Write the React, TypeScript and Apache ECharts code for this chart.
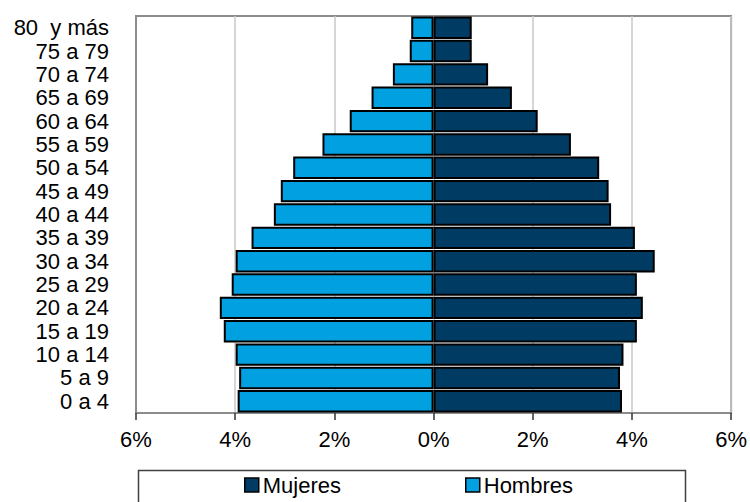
import React, { useEffect, useRef } from "react";
import * as echarts from "echarts";

const categories = [
  "0 a 4", "5 a 9", "10 a 14", "15 a 19", "20 a 24", "25 a 29", "30 a 34",
  "35 a 39", "40 a 44", "45 a 49", "50 a 54", "55 a 59", "60 a 64",
  "65 a 69", "70 a 74", "75 a 79", "80  y más",
];
const hombres = [3.95, 3.92, 3.99, 4.23, 4.31, 4.07, 3.99, 3.67, 3.22, 3.08, 2.83, 2.24, 1.69, 1.25, 0.82, 0.48, 0.45];
const mujeres = [3.8, 3.76, 3.83, 4.1, 4.22, 4.1, 4.46, 4.06, 3.58, 3.53, 3.34, 2.77, 2.1, 1.58, 1.1, 0.77, 0.77];
const xTicks = [-6, -4, -2, 0, 2, 4, 6];

const FONT = "'Liberation Sans', Arial, sans-serif";

export default function App() {
  const ref = useRef<HTMLDivElement>(null);
  useEffect(() => {
    document.body.style.margin = "0";
    const chart = echarts.init(ref.current!, null, { renderer: "svg" });
    chart.setOption({
      animation: false,
      backgroundColor: "#fff",
      grid: {
        left: 136, right: 18, top: 16, bottom: 89,
        show: true, borderColor: "#8c8c8c", borderWidth: 2,
      },
      graphic: [
        {
          type: "rect",
          left: 136, top: 468,
          shape: { width: 547, height: 40 },
          style: { fill: "none", stroke: "#404040", lineWidth: 1.5 },
        },
      ],
      legend: {
        data: ["Mujeres", "Hombres"],
        left: 244, top: 474,
        padding: 0,
        itemWidth: 14, itemHeight: 14, itemGap: 124,
        icon: "rect",
        itemStyle: { borderColor: "#000", borderWidth: 1.5 },
        textStyle: { fontFamily: FONT, fontSize: 22, color: "#000", padding: [0, 0, 0, -1] },
      },
      xAxis: {
        type: "value",
        min: xTicks[0], max: xTicks[xTicks.length - 1], interval: 2,
        axisLine: { show: true, lineStyle: { color: "#8c8c8c", width: 2 } },
        axisTick: { show: true, length: 7, lineStyle: { color: "#333", width: 1.5 } },
        splitLine: { show: true, lineStyle: { color: "#c8c8c8", width: 1.5 } },
        axisLabel: {
          margin: 15,
          fontFamily: FONT, fontSize: 22, color: "#000",
          formatter: (v: number) => Math.abs(v) + "%",
        },
      },
      yAxis: {
        type: "category",
        data: categories,
        axisLine: { show: true, onZero: false, lineStyle: { color: "#8c8c8c", width: 2 } },
        axisTick: { show: false },
        axisLabel: {
          interval: 0, margin: 27, fontFamily: FONT, fontSize: 22, color: "#000",
          lineHeight: 22,
        },
      },
      series: [
        {
          name: "Mujeres",
          type: "bar",
          stack: "total",
          data: mujeres,
          barCategoryGap: "4%",
          itemStyle: { color: "#003b63", borderColor: "#000", borderWidth: 2 },
        },
        {
          name: "Hombres",
          type: "bar",
          stack: "total",
          data: hombres.map((v) => -v),
          barCategoryGap: "4%",
          itemStyle: { color: "#00a0e1", borderColor: "#000", borderWidth: 2 },
        },
      ],
    });
    return () => chart.dispose();
  }, []);
  return <div ref={ref} style={{ width: 750, height: 502 }} />;
}
